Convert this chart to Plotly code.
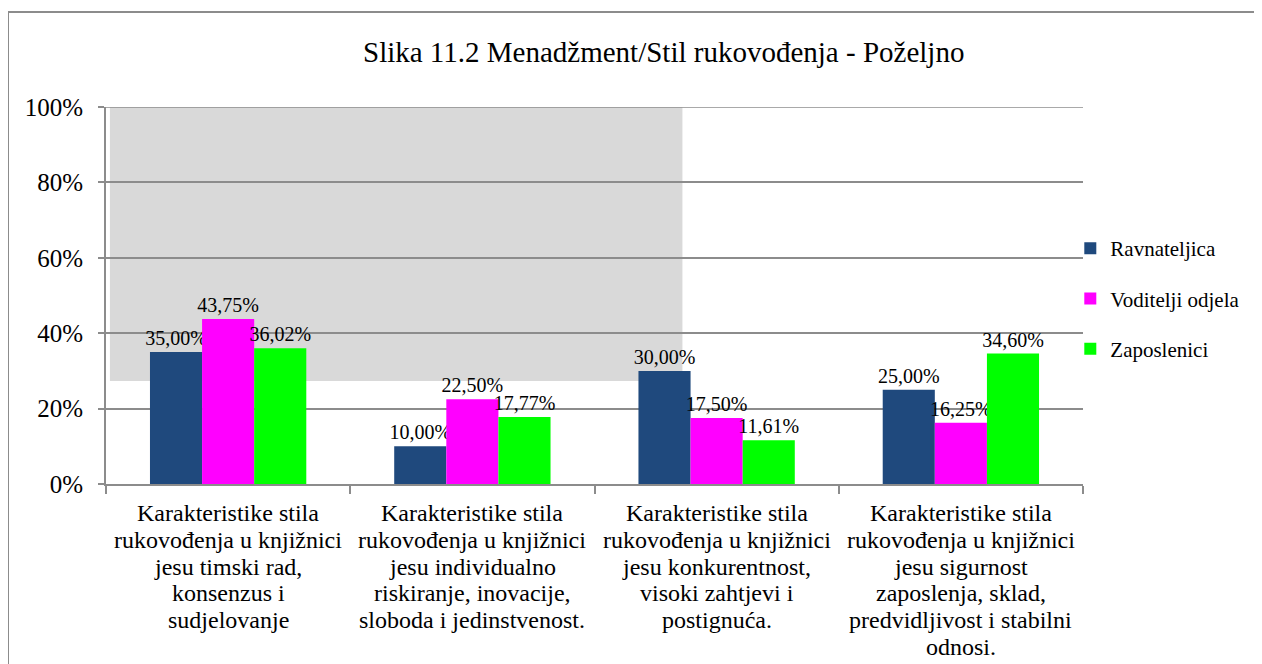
import plotly.graph_objects as go

# ---- data ----
categories = ["Kat1", "Kat2", "Kat3", "Kat4"]
category_lines = [
    ["Karakteristike stila", "rukovođenja u knjižnici", "jesu timski rad,", "konsenzus i", "sudjelovanje"],
    ["Karakteristike stila", "rukovođenja u knjižnici", "jesu individualno", "riskiranje, inovacije,", "sloboda i jedinstvenost."],
    ["Karakteristike stila", "rukovođenja u knjižnici", "jesu konkurentnost,", "visoki zahtjevi i", "postignuća."],
    ["Karakteristike stila", "rukovođenja u knjižnici", "jesu sigurnost", "zaposlenja, sklad,", "predvidljivost i stabilni", "odnosi."],
]
series_names = ["Ravnateljica", "Voditelji odjela", "Zaposlenici"]
ravnateljica = [35.00, 10.00, 30.00, 25.00]
voditelji_odjela = [43.75, 22.50, 17.50, 16.25]
zaposlenici = [36.02, 17.77, 11.61, 34.60]
y_ticks = [0, 20, 40, 60, 80, 100]
y_tick_labels = ["0%", "20%", "40%", "60%", "80%", "100%"]
title_text = "Slika 11.2 Menadžment/Stil rukovođenja - Poželjno"

colors = ["#1F497D", "#FF00FF", "#00FF00"]
FONT = "Liberation Serif"
GRID = "#8C8C8C"

fig = go.Figure()
for name, vals, col in zip(series_names, [ravnateljica, voditelji_odjela, zaposlenici], colors):
    fig.add_trace(go.Bar(
        x=categories, y=vals, name=name, legendgroup=name,
        marker=dict(color=col, line=dict(width=0)),
        texttemplate="%{y:.2f}%", textposition="outside",
        textfont=dict(family=FONT, size=20, color="#000000"),
        constraintext="none", cliponaxis=False,
    ))

annotations = []
for cat, lines in zip(categories, category_lines):
    for j, line in enumerate(lines):
        annotations.append(dict(
            x=cat, xref="x", y=0, yref="paper", yanchor="middle", xanchor="center",
            yshift=-(29 + j * 26.8), text=line, showarrow=False,
            font=dict(family=FONT, size=24, color="#000000"),
        ))
annotations.append(dict(
    x=0.571, xref="paper", y=1.146, yref="paper", xanchor="center", yanchor="middle",
    text=title_text, showarrow=False, font=dict(family=FONT, size=29, color="#000000"),
))

shapes = [
    # grey area in plot
    dict(type="rect", xref="paper", yref="paper", x0=0.004, x1=0.59, y0=0.273, y1=1.0,
         fillcolor="#D9D9D9", line=dict(width=0), layer="below"),
    # top gridline (at the range edge)
    dict(type="line", xref="paper", yref="y", x0=0, x1=1, y0=y_ticks[-1], y1=y_ticks[-1],
         line=dict(color=GRID, width=1.5), layer="below"),
    # outer chart border
    dict(type="rect", xref="paper", yref="paper", x0=-0.1003, x1=1.6, y0=-1.0, y1=1.252,
         fillcolor="rgba(0,0,0,0)", line=dict(color=GRID, width=2), layer="above"),
]

fig.update_layout(
    width=1254, height=656,
    margin=dict(l=98, r=179, t=99, b=180),
    paper_bgcolor="#FFFFFF", plot_bgcolor="#FFFFFF",
    separators=", ",
    barmode="group", bargap=0.36, bargroupgap=0,
    font=dict(family=FONT, color="#000000"),
    showlegend=True,
    legend=dict(x=0.987, xanchor="left", y=0.492, yanchor="middle",
                font=dict(family=FONT, size=21, color="#000000"),
                traceorder="grouped", tracegroupgap=20, bgcolor="rgba(0,0,0,0)"),
    annotations=annotations, shapes=shapes,
)
fig.update_xaxes(showticklabels=False, showline=True, linecolor=GRID, linewidth=2,
                 ticks="outside", tickson="boundaries", ticklen=8, tickcolor=GRID,
                 tickwidth=1.5, showgrid=False, range=[-0.5, 3.5])
fig.update_yaxes(range=[0, 100], tickmode="array", tickvals=y_ticks, ticktext=y_tick_labels,
                 showline=True, linecolor=GRID, linewidth=2, ticks="outside", ticklen=6,
                 tickcolor=GRID, tickwidth=1.5, showgrid=True, gridcolor=GRID,
                 gridwidth=1.5, zeroline=False, ticklabelstandoff=10,
                 tickfont=dict(family=FONT, size=25, color="#000000"))

fig.write_html("out.html")
